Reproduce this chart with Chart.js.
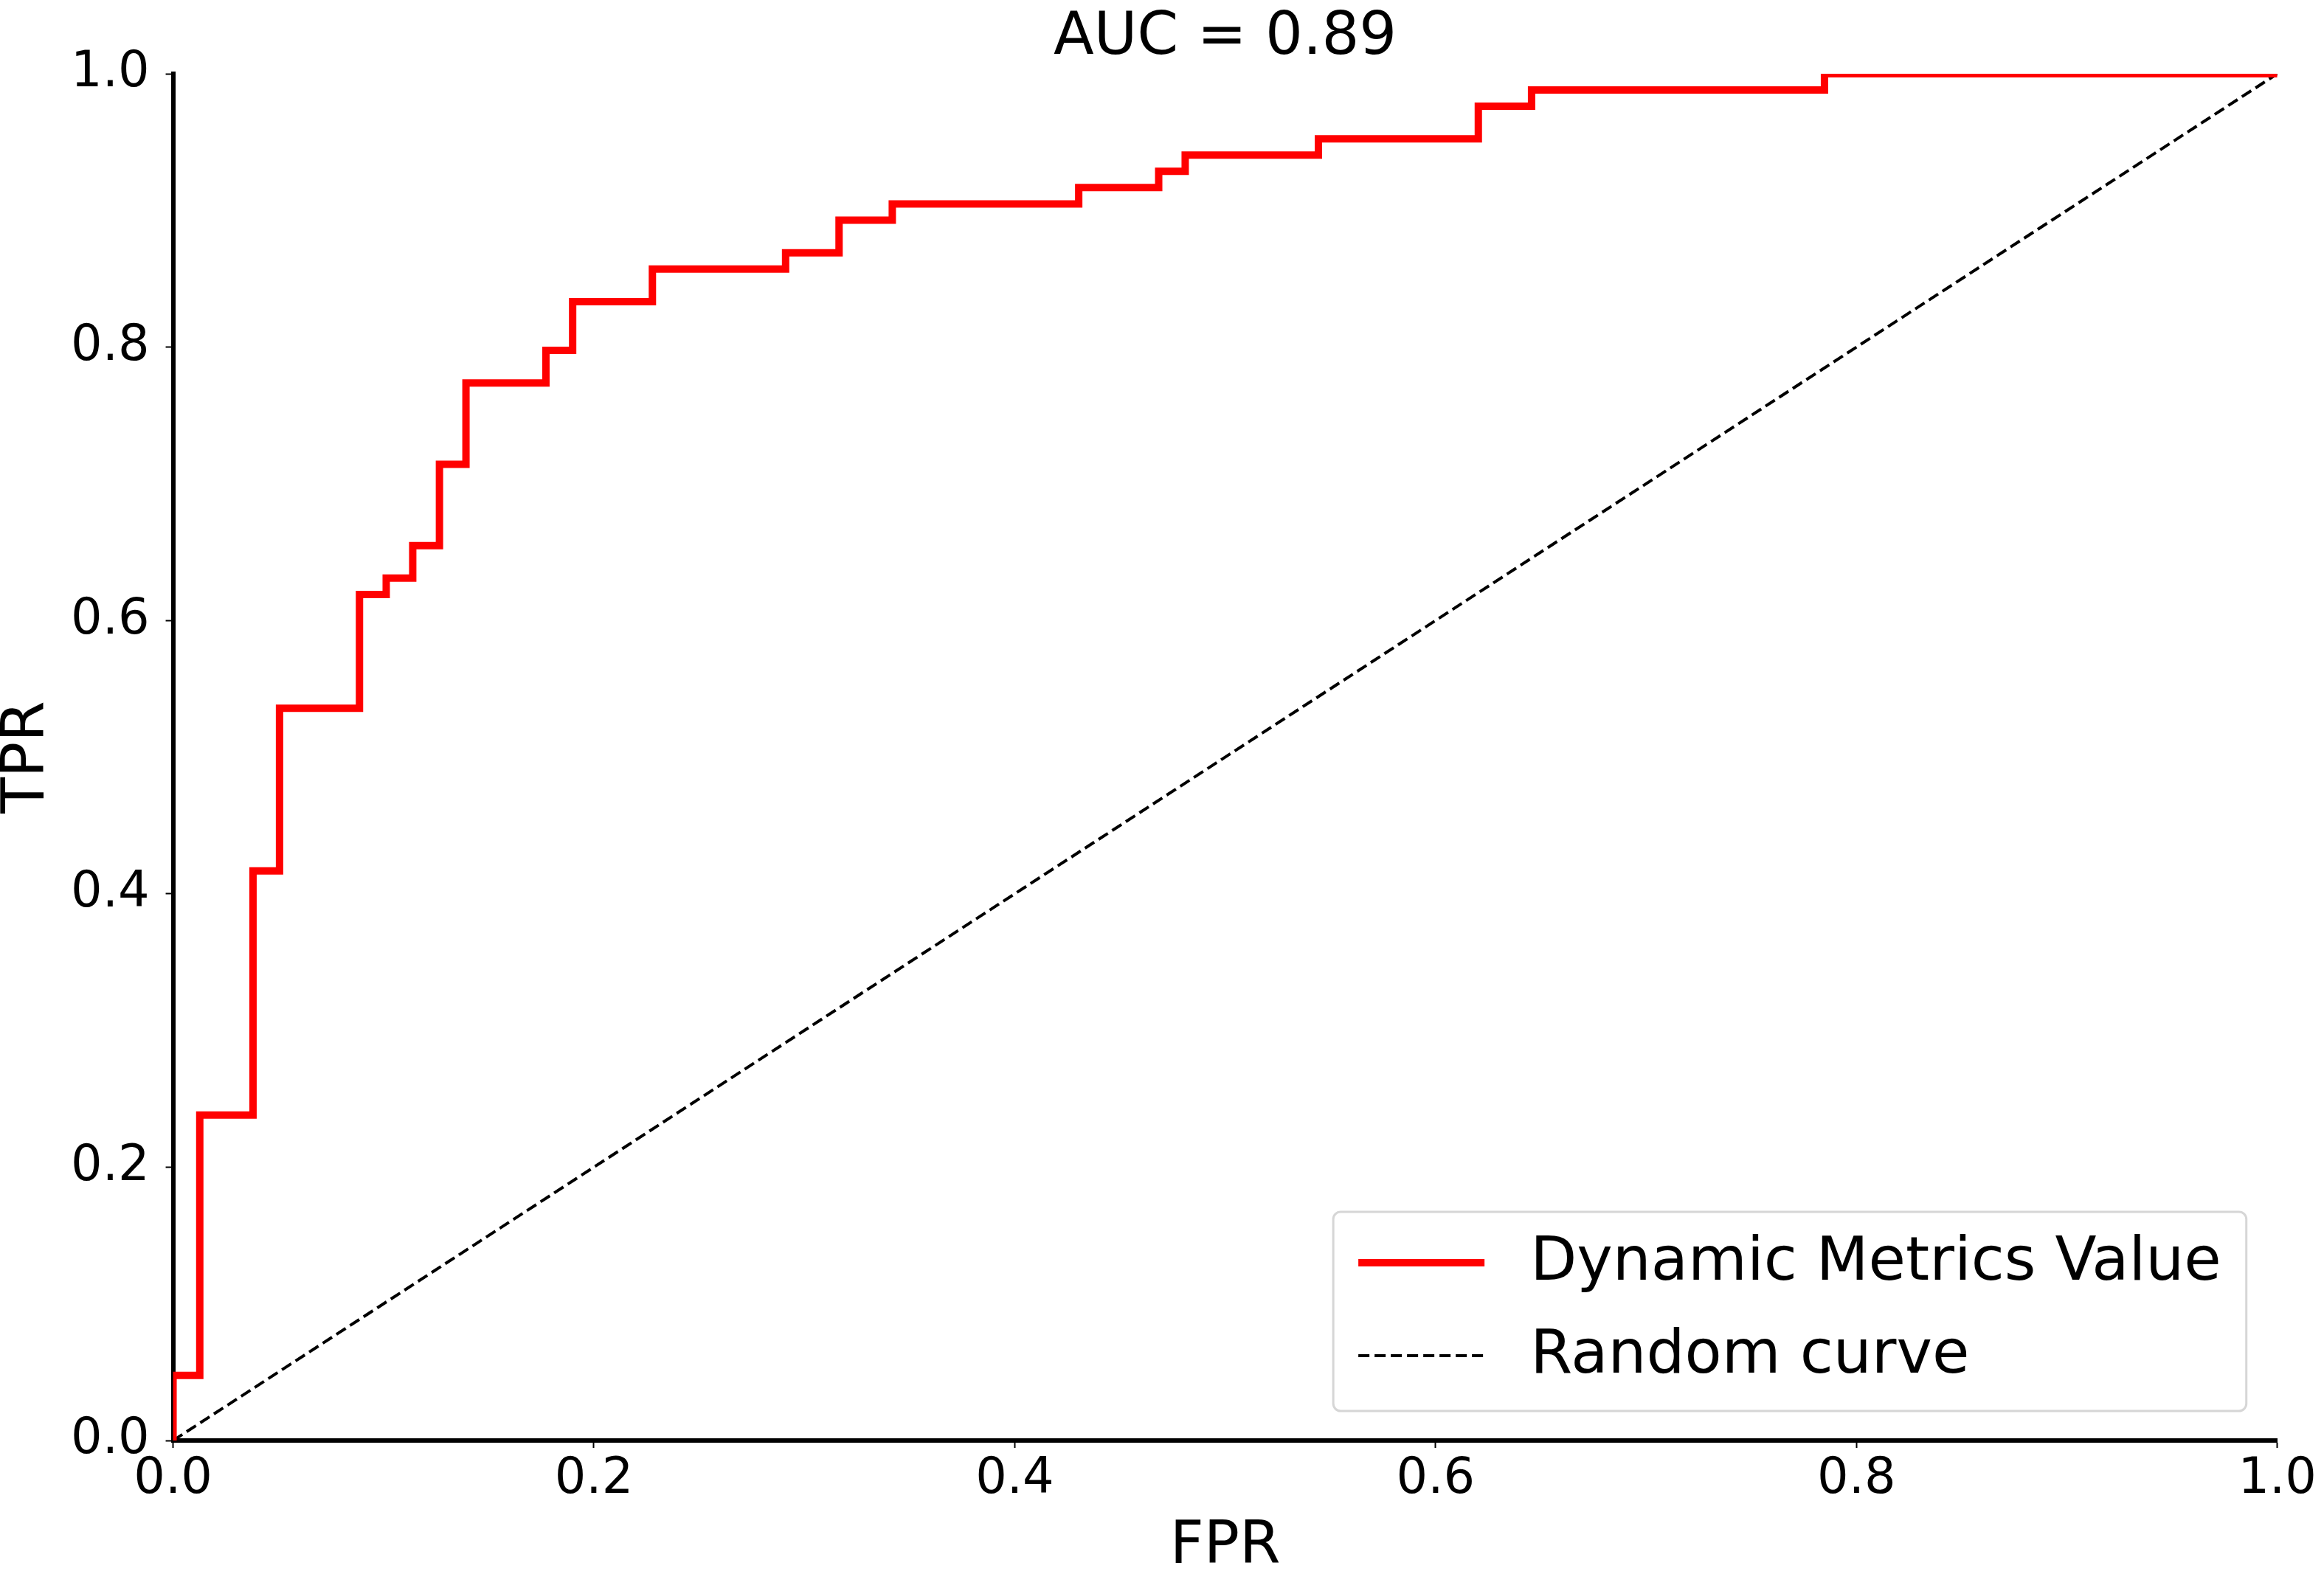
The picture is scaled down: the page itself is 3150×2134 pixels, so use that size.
<!DOCTYPE html>
<html>
<head>
<meta charset="utf-8">
<style>
  html, body { margin: 0; padding: 0; background: #fff; }
  canvas { display: block; }
</style>
</head>
<body>
<canvas id="rocChart" width="3150" height="2134"></canvas>

<script src="https://cdn.jsdelivr.net/npm/chart.js"></script>
<script>
  // ROC corner points
  var fpr = [0, 0, 0.0127, 0.0127, 0.0380, 0.0380, 0.0506, 0.0506, 0.0886, 0.0886,
             0.1013, 0.1013, 0.1139, 0.1139, 0.1266, 0.1266, 0.1392, 0.1392, 0.1772, 0.1772,
             0.1899, 0.1899, 0.2278, 0.2278, 0.2911, 0.2911, 0.3165, 0.3165, 0.3418, 0.3418,
             0.4304, 0.4304, 0.4684, 0.4684, 0.4810, 0.4810, 0.5443, 0.5443, 0.6203, 0.6203,
             0.6456, 0.6456, 0.7848, 0.7848, 1.0];
  var tpr = [0, 0.0476, 0.0476, 0.2381, 0.2381, 0.4167, 0.4167, 0.5357, 0.5357, 0.6190,
             0.6190, 0.6310, 0.6310, 0.6548, 0.6548, 0.7143, 0.7143, 0.7738, 0.7738, 0.7976,
             0.7976, 0.8333, 0.8333, 0.8571, 0.8571, 0.8690, 0.8690, 0.8929, 0.8929, 0.9048,
             0.9048, 0.9167, 0.9167, 0.9286, 0.9286, 0.9405, 0.9405, 0.9524, 0.9524, 0.9762,
             0.9762, 0.9881, 0.9881, 1.0, 1.0];
  var randomX = [0, 1];
  var randomY = [0, 1];
  var seriesNames = ["Dynamic Metrics Value", "Random curve"];
  var chartTitle = "AUC = 0.89";
  var xLabel = "FPR";
  var yLabel = "TPR";

  var FONT = "'DejaVu Sans', 'Liberation Sans', sans-serif";
  Chart.defaults.font.family = FONT;
  Chart.defaults.color = '#000';

  function toPoints(xs, ys) {
    return xs.map(function (x, i) { return { x: x, y: ys[i] }; });
  }

  // matplotlib-like framed legend in the lower right of the axes
  var boxLegend = {
    id: 'boxLegend',
    afterDatasetsDraw(chart) {
      var ctx = chart.ctx;
      var ca = chart.chartArea;
      var sets = chart.data.datasets;
      ctx.save();
      ctx.font = '82px ' + FONT;
      var textW = 0;
      sets.forEach(function (ds) { textW = Math.max(textW, ctx.measureText(ds.label).width); });
      var padL = 34, lineLen = 171, gap = 62, padR = 34;
      var w = padL + lineLen + gap + textW + padR;
      var h = 270;
      var right = ca.right - 42, bottom = ca.bottom - 40;
      var left = right - w, top = bottom - h;

      ctx.beginPath();
      ctx.roundRect(left, top, w, h, 10);
      ctx.fillStyle = 'rgba(255,255,255,0.8)';
      ctx.fill();
      ctx.lineWidth = 3;
      ctx.strokeStyle = '#d6d6d6';
      ctx.stroke();

      sets.forEach(function (ds, i) {
        var y = top + 69 + i * 126;
        ctx.beginPath();
        ctx.setLineDash(ds.borderDash || []);
        ctx.lineWidth = ds.borderWidth;
        ctx.strokeStyle = ds.borderColor;
        ctx.moveTo(left + padL, y);
        ctx.lineTo(left + padL + lineLen, y);
        ctx.stroke();
        ctx.setLineDash([]);
        ctx.fillStyle = '#000';
        ctx.textAlign = 'left';
        ctx.textBaseline = 'middle';
        ctx.fillText(ds.label, left + padL + lineLen + gap, y + 2);
      });
      ctx.restore();
    }
  };

  var axisTicks = {
    font: { size: 67, lineHeight: 1 },
    color: '#000'
  };

  new Chart(document.getElementById('rocChart'), {
    type: 'line',
    data: {
      datasets: [{
        label: seriesNames[0],
        data: toPoints(fpr, tpr),
        borderColor: '#ff0000',
        borderWidth: 10,
        pointRadius: 0,
        tension: 0,
        fill: false
      }, {
        label: seriesNames[1],
        data: toPoints(randomX, randomY),
        borderColor: '#000',
        borderWidth: 4,
        borderDash: [15, 7],
        pointRadius: 0,
        fill: false
      }]
    },
    plugins: [boxLegend],
    options: {
      responsive: false,
      animation: false,
      devicePixelRatio: 1,
      layout: { padding: { top: 0, right: 60, bottom: 0, left: 0 } },
      plugins: {
        legend: { display: false },
        tooltip: { enabled: false },
        title: {
          display: true,
          text: chartTitle,
          fullSize: false,
          color: '#000',
          font: { size: 80, weight: 'normal', lineHeight: 1 },
          padding: { top: 12, bottom: 8 }
        }
      },
      scales: {
        x: {
          type: 'linear',
          min: 0,
          max: 1,
          ticks: Object.assign({ stepSize: 0.2, padding: 10,
            callback: function (v) { return v.toFixed(1); } }, axisTicks),
          grid: { drawOnChartArea: false, drawTicks: true, tickLength: 10, tickWidth: 2, tickColor: '#000' },
          border: { display: true, color: '#000', width: 6 },
          title: {
            display: true, text: xLabel, color: '#000',
            font: { size: 80, lineHeight: 0.9 },
            padding: { top: 12, bottom: 0 }
          }
        },
        y: {
          type: 'linear',
          min: 0,
          max: 1,
          ticks: Object.assign({ stepSize: 0.2, padding: 22,
            callback: function (v) { return v.toFixed(1); } }, axisTicks),
          grid: { drawOnChartArea: false, drawTicks: true, tickLength: 10, tickWidth: 2, tickColor: '#000' },
          border: { display: true, color: '#000', width: 6 },
          title: {
            display: true, text: yLabel, color: '#000',
            font: { size: 80, lineHeight: 0.9 },
            padding: { top: 2, bottom: 0 }
          }
        }
      }
    }
  });
</script>
</body>
</html>
